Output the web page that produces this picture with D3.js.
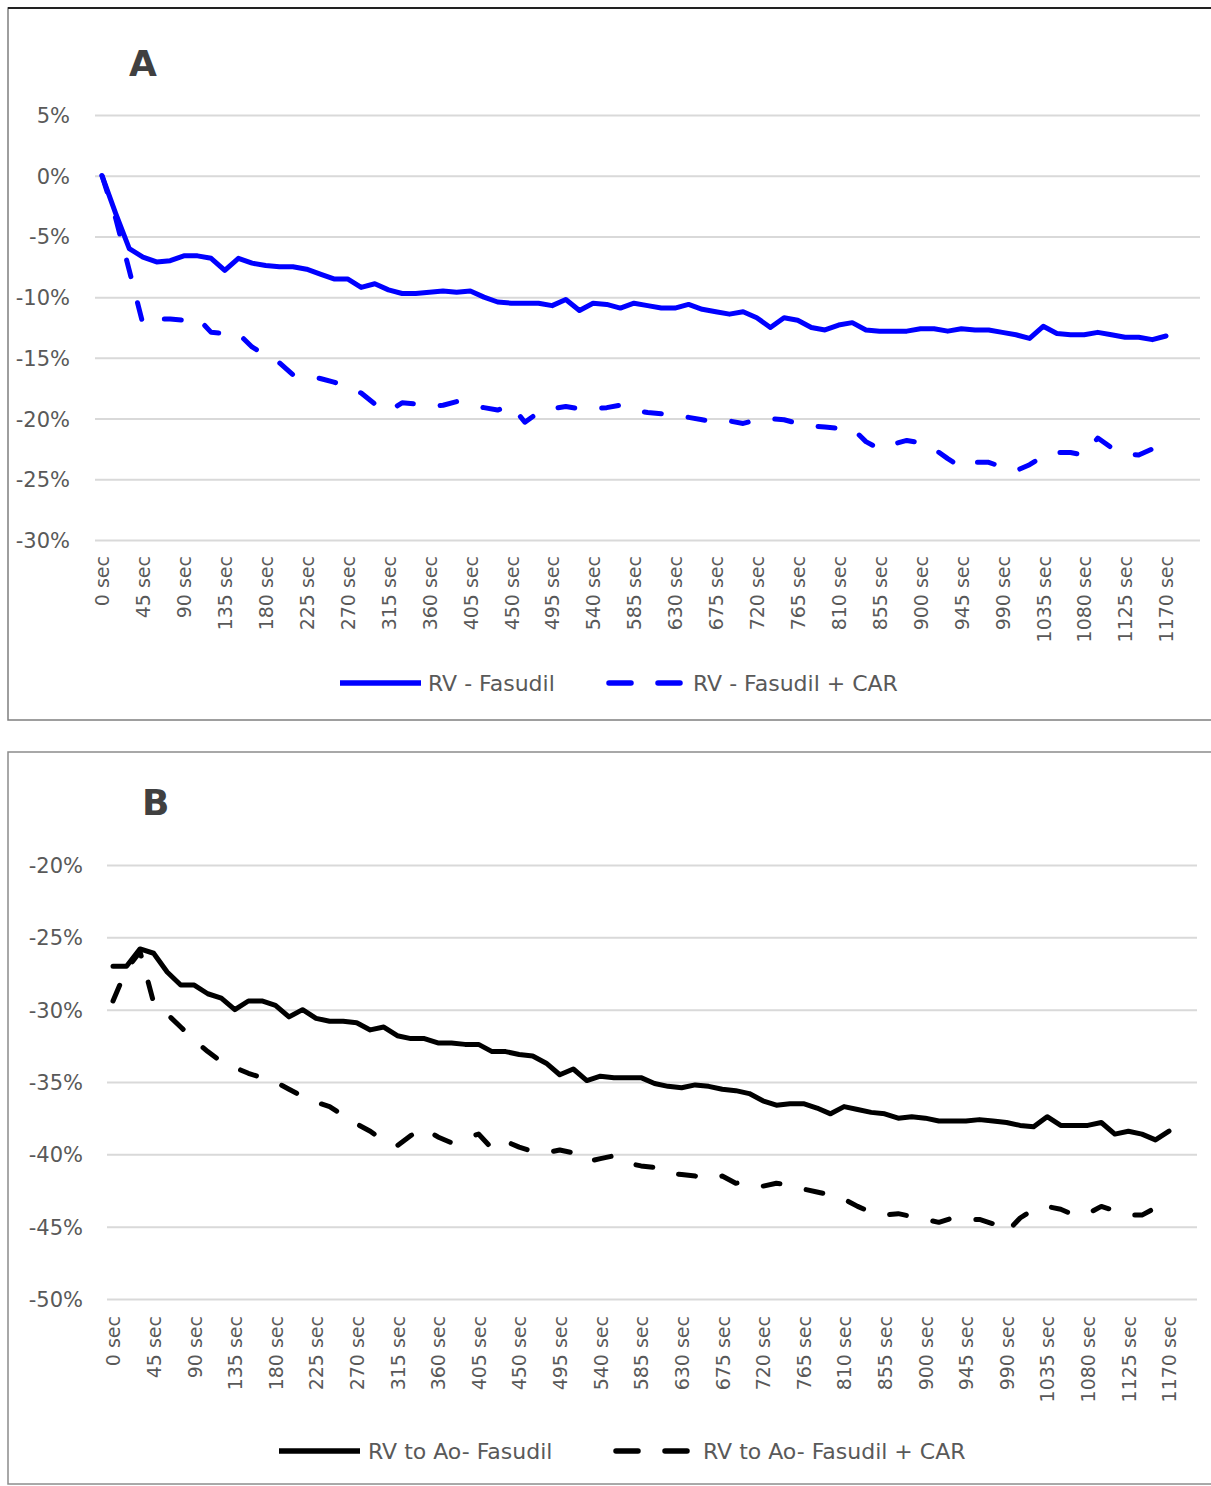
<!DOCTYPE html>
<html><head><meta charset="utf-8">
<script src="https://cdn.jsdelivr.net/npm/d3@7"></script>
<style>
html,body{margin:0;padding:0;background:#fff;}
svg text{font-family:"DejaVu Sans",sans-serif;fill:#595959;}
</style></head>
<body>
<svg id="chart" width="1211" height="1486"></svg>
<script>
const categories = [0,15,30,45,60,75,90,105,120,135,150,165,180,195,210,225,240,255,270,285,300,315,330,345,360,375,390,405,420,435,450,465,480,495,510,525,540,555,570,585,600,615,630,645,660,675,690,705,720,735,750,765,780,795,810,825,840,855,870,885,900,915,930,945,960,975,990,1005,1020,1035,1050,1065,1080,1095,1110,1125,1140,1155,1170];
const tickLabels = [0,45,90,135,180,225,270,315,360,405,450,495,540,585,630,675,720,765,810,855,900,945,990,1035,1080,1125,1170];
const yTicksA = [5,0,-5,-10,-15,-20,-25,-30];
const yTicksB = [-20,-25,-30,-35,-40,-45,-50];

const rvFasudil = [0,-3.1,-6.0,-6.7,-7.1,-7.0,-6.6,-6.6,-6.8,-7.8,-6.8,-7.2,-7.4,-7.5,-7.5,-7.7,-8.1,-8.5,-8.5,-9.2,-8.9,-9.4,-9.7,-9.7,-9.6,-9.5,-9.6,-9.5,-10.0,-10.4,-10.5,-10.5,-10.5,-10.7,-10.2,-11.1,-10.5,-10.6,-10.9,-10.5,-10.7,-10.9,-10.9,-10.6,-11.0,-11.2,-11.4,-11.2,-11.7,-12.5,-11.7,-11.9,-12.5,-12.7,-12.3,-12.1,-12.7,-12.8,-12.8,-12.8,-12.6,-12.6,-12.8,-12.6,-12.7,-12.7,-12.9,-13.1,-13.4,-12.4,-13.0,-13.1,-13.1,-12.9,-13.1,-13.3,-13.3,-13.5,-13.2];
const rvFasudilCAR = [0,-3.5,-7.8,-12.2,-11.8,-11.8,-11.9,-11.7,-12.9,-13.0,-13.0,-14.1,-14.8,-15.4,-16.4,-16.5,-16.7,-17.0,-17.4,-17.9,-18.8,-19.4,-18.7,-18.8,-19.0,-18.9,-18.6,-18.9,-19.1,-19.3,-18.9,-20.3,-19.5,-19.2,-19.0,-19.2,-19.2,-19.1,-18.9,-19.3,-19.5,-19.6,-19.7,-19.9,-20.1,-20.3,-20.2,-20.4,-20.1,-20.0,-20.1,-20.4,-20.6,-20.7,-20.8,-20.8,-21.9,-22.5,-22.1,-21.8,-22.0,-22.5,-23.3,-24.0,-23.6,-23.6,-24.0,-24.3,-23.8,-23.1,-22.8,-22.8,-23.0,-21.6,-22.4,-22.9,-23.0,-22.5,-22.3];
const rvAoFasudil = [-27.0,-27.0,-25.8,-26.1,-27.4,-28.3,-28.3,-28.9,-29.2,-30.0,-29.4,-29.4,-29.7,-30.5,-30.0,-30.6,-30.8,-30.8,-30.9,-31.4,-31.2,-31.8,-32.0,-32.0,-32.3,-32.3,-32.4,-32.4,-32.9,-32.9,-33.1,-33.2,-33.7,-34.5,-34.1,-34.9,-34.6,-34.7,-34.7,-34.7,-35.1,-35.3,-35.4,-35.2,-35.3,-35.5,-35.6,-35.8,-36.3,-36.6,-36.5,-36.5,-36.8,-37.2,-36.7,-36.9,-37.1,-37.2,-37.5,-37.4,-37.5,-37.7,-37.7,-37.7,-37.6,-37.7,-37.8,-38.0,-38.1,-37.4,-38.0,-38.0,-38.0,-37.8,-38.6,-38.4,-38.6,-39.0,-38.4];
const rvAoFasudilCAR = [-29.4,-27.2,-26.0,-29.5,-30.3,-31.2,-32.1,-32.9,-33.6,-34.0,-34.4,-34.7,-35.0,-35.5,-36.0,-36.4,-36.7,-37.3,-37.9,-38.4,-39.1,-39.4,-38.7,-38.2,-38.8,-39.2,-38.9,-38.6,-39.6,-39.1,-39.5,-39.8,-39.9,-39.7,-39.9,-40.5,-40.3,-40.1,-40.6,-40.8,-40.9,-41.3,-41.4,-41.5,-41.7,-41.5,-42.0,-41.9,-42.2,-42.0,-42.1,-42.4,-42.6,-42.8,-43.1,-43.6,-44.0,-44.2,-44.1,-44.3,-44.5,-44.7,-44.4,-44.5,-44.5,-44.8,-45.4,-44.4,-43.8,-43.6,-43.8,-44.2,-44.1,-43.6,-43.9,-44.2,-44.2,-43.7,-44.2];

const seriesA = [
  {name:"RV - Fasudil", values: rvFasudil, dashed:false},
  {name:"RV - Fasudil + CAR", values: rvFasudilCAR, dashed:true}
];
const seriesB = [
  {name:"RV to Ao- Fasudil", values: rvAoFasudil, dashed:false},
  {name:"RV to Ao- Fasudil + CAR", values: rvAoFasudilCAR, dashed:true}
];

const svg = d3.select("#chart");
const DASH = "17,27";

function panel(cfg){
  const g = svg.append("g");
  g.append("rect").attr("x",cfg.frame[0]).attr("y",cfg.frame[1])
    .attr("width",cfg.frame[2]).attr("height",cfg.frame[3])
    .attr("fill","none").attr("stroke",cfg.frameColor).attr("stroke-width",1.5);
  if(cfg.topDark){
    g.append("line").attr("x1",cfg.frame[0]).attr("x2",cfg.frame[0]+cfg.frame[2])
      .attr("y1",cfg.frame[1]).attr("y2",cfg.frame[1]).attr("stroke","#222").attr("stroke-width",2);
  }
  g.append("text").attr("x",cfg.letterX).attr("y",cfg.letterY)
    .style("font-size","36px").style("font-weight","bold").style("fill","#404040").text(cfg.letter);

  const x = d3.scalePoint().domain(categories).range(cfg.xRange);
  const y = d3.scaleLinear().domain(cfg.yDomain).range(cfg.yRange);

  g.append("g").attr("transform",`translate(${cfg.gridX[1]},0)`)
    .call(d3.axisRight(y).tickValues(cfg.yTicks).tickSize(-(cfg.gridX[1]-cfg.gridX[0])).tickFormat(""))
    .call(a=>a.select(".domain").remove())
    .call(a=>a.selectAll("line").attr("stroke","#d9d9d9").attr("stroke-width",2));

  g.append("g").attr("transform",`translate(${cfg.yLabelX},0)`)
    .call(d3.axisLeft(y).tickValues(cfg.yTicks).tickSize(0).tickPadding(0).tickFormat(d=>d+"%"))
    .call(a=>a.select(".domain").remove())
    .call(a=>a.selectAll("text").style("font-size","21px").attr("dy","0.36em"));

  const xa = g.append("g").attr("transform",`translate(0,${cfg.xLabelY})`)
    .call(d3.axisBottom(x).tickValues(tickLabels).tickSize(0).tickPadding(0).tickFormat(d=>d+" sec"));
  xa.select(".domain").remove();
  xa.selectAll("text").style("font-size","19px")
    .attr("text-anchor","end").attr("transform","rotate(-90)")
    .attr("x",0).attr("y",0).attr("dx",0).attr("dy","0.36em");

  const line = d3.line().x((d,i)=>x(categories[i])).y(d=>y(d)).curve(d3.curveLinear);
  cfg.series.forEach(s=>{
    g.append("path").datum(s.values).attr("d",line)
      .attr("fill","none").attr("stroke",cfg.color).attr("stroke-width",5)
      .attr("stroke-linejoin","round").attr("stroke-linecap","round")
      .attr("stroke-dasharray", s.dashed?DASH:null);
  });

  cfg.legend.forEach((L,k)=>{
    const s = cfg.series[k];
    g.append("line").attr("x1",L[0]).attr("x2",L[1]).attr("y1",cfg.legendY).attr("y2",cfg.legendY)
      .attr("stroke",cfg.color).attr("stroke-width",5.5)
      .attr("stroke-linecap", s.dashed?"round":"butt")
      .attr("stroke-dasharray", s.dashed?"22,27":null);
    g.append("text").attr("x",L[2]).attr("y",cfg.legendY).attr("dy","0.36em")
      .style("font-size","22px").text(s.name);
  });
}

panel({
  frame:[8,8,1215,712], frameColor:"#7f7f7f", topDark:true,
  letter:"A", letterX:129, letterY:76,
  xRange:[102,1166], yDomain:[-30,5], yRange:[540,115], yTicks:yTicksA,
  gridX:[95,1200], yLabelX:70, xLabelY:556,
  series:seriesA, color:"#0000ff",
  legendY:683, legend:[[340,421,428],[609,684,693]]
});
panel({
  frame:[8,752,1215,732], frameColor:"#8c8c8c", topDark:false,
  letter:"B", letterX:142, letterY:815,
  xRange:[113,1169], yDomain:[-50,-20], yRange:[1299,865], yTicks:yTicksB,
  gridX:[107,1197], yLabelX:83, xLabelY:1316,
  series:seriesB, color:"#000000",
  legendY:1451, legend:[[279,360,368],[616,691,703]]
});
</script>
</body></html>
